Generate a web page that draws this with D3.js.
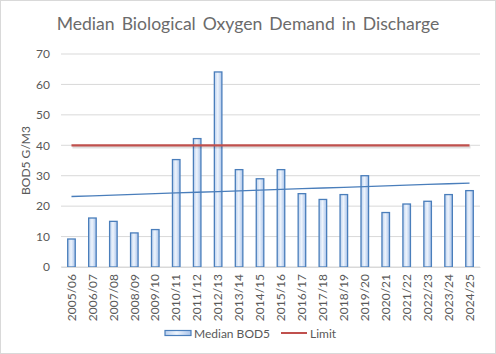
<!DOCTYPE html>
<html><head><meta charset="utf-8">
<script src="https://cdn.jsdelivr.net/npm/d3@7"></script>
<style>body{margin:0;background:#fff}svg{display:block}text{font-family:Lato,"Open Sans",sans-serif}</style>
</head><body><svg id="c" width="496" height="354"></svg>
<script>
const categories = ["2005/06","2006/07","2007/08","2008/09","2009/10","2010/11","2011/12","2012/13","2013/14","2014/15","2015/16","2016/17","2017/18","2018/19","2019/20","2020/21","2021/22","2022/23","2023/24","2024/25"];
const medianBOD5 = [9.2,16.1,15,11.2,12.3,35.3,42.2,64.1,32,29,32,24.1,22.2,23.8,30,17.9,20.7,21.6,23.8,25.1];
const limitValues = categories.map(() => 40);
const yTicks = [0,10,20,30,40,50,60,70];
const title = "Median Biological Oxygen Demand in Discharge";
const yLabel = "BOD5 G/M3";
const legendLabels = ["Median BOD5","Limit"];

const svg = d3.select("#c");
const W = 496, H = 354;
const m = {l:61, r:16, t:54, b:87};
const x = d3.scaleBand().domain(categories).range([m.l, W - m.r]).paddingInner(0.64).paddingOuter(0.32);
const xc = d3.scalePoint().domain(categories).range([m.l, W - m.r]).padding(0.5);
const y = d3.scaleLinear().domain([0,70]).range([H - m.b, m.t]);

svg.append("rect").attr("x",0.5).attr("y",0.5).attr("width",W-1).attr("height",H-1).attr("fill","#fff").attr("stroke","#d9d9d9");

const defs = svg.append("defs");
const g = defs.append("linearGradient").attr("id","bg").attr("x1","0").attr("x2","1").attr("y1","0").attr("y2","0");
g.append("stop").attr("offset","0").attr("stop-color","#bcd1ee");
g.append("stop").attr("offset","0.45").attr("stop-color","#eef4fc");
g.append("stop").attr("offset","1").attr("stop-color","#a9c3ea");

// gridlines
svg.append("g").selectAll("line").data(yTicks).join("line")
  .attr("x1", m.l).attr("x2", W - m.r)
  .attr("y1", d => y(d)).attr("y2", d => y(d))
  .attr("stroke","#d9d9d9").attr("stroke-width",1);

// y axis labels
const yAxis = d3.axisLeft(y).tickValues(yTicks).tickSize(0).tickPadding(11);
const ya = svg.append("g").attr("transform",`translate(${m.l},0)`).call(yAxis);
ya.select(".domain").remove();
ya.selectAll("text").attr("fill","#595959").style("font-size","12px").style("font-family","Lato,'Open Sans',sans-serif");

// bars
svg.append("g").selectAll("rect").data(categories).join("rect")
  .attr("x", d => x(d)).attr("width", x.bandwidth())
  .attr("y", (d,i) => y(medianBOD5[i])).attr("height", (d,i) => y(0) - y(medianBOD5[i]))
  .attr("fill","url(#bg)").attr("stroke","#4a7ebb").attr("stroke-width",1.3);

// limit line
const line = d3.line().x((d,i) => xc(categories[i])).y(d => y(d));
svg.append("path").datum(limitValues).attr("d", line).attr("fill","none")
  .attr("stroke","#000").attr("stroke-opacity",0.12).attr("stroke-width",2.5).attr("transform","translate(1,2)");
svg.append("path").datum(limitValues).attr("d", line).attr("fill","none").attr("stroke","#c0504d").attr("stroke-width",2.2);

// trendline (linear regression of the data)
const xs = medianBOD5.map((d,i) => i+1);
const mx = d3.mean(xs), my = d3.mean(medianBOD5);
const slope = d3.sum(xs.map((xi,i) => (xi-mx)*(medianBOD5[i]-my))) / d3.sum(xs.map(xi => (xi-mx)**2));
const icpt = my - slope*mx;
const trend = xs.map(xi => icpt + slope*xi);
svg.append("path").datum(trend).attr("d", line).attr("fill","none").attr("stroke","#4a7ebb").attr("stroke-width",1.3);

// x axis
const xAxis = d3.axisBottom(x).tickSize(0).tickPadding(0);
const xa = svg.append("g").attr("transform",`translate(0,${y(0)})`).call(xAxis);
xa.select(".domain").attr("stroke","#d9d9d9");
xa.selectAll("text").attr("fill","#595959").style("font-size","12px")
  .attr("text-anchor","end").attr("dy","0.35em")
  .attr("transform","translate(0,7) rotate(-90)").attr("x",0).attr("y",0);

// title
svg.append("text").attr("x", 248).attr("y", 30).attr("text-anchor","middle")
  .attr("fill","#6b6b6b").style("font-size","17.6px").style("word-spacing","2.5px").text(title);

// y label
svg.append("text").attr("transform",`translate(30,${(y(0)+y(70))/2}) rotate(-90)`).attr("text-anchor","middle")
  .attr("fill","#595959").style("font-size","12px").text(yLabel);

// legend
const lg = svg.append("g");
lg.append("rect").attr("x",165).attr("y",330.5).attr("width",26).attr("height",5).attr("fill","url(#bg)").attr("stroke","#4a7ebb").attr("stroke-width",1.2);
lg.append("text").attr("x",194).attr("y",337.5).attr("fill","#595959").style("font-size","12px").text(legendLabels[0]);
lg.append("line").attr("x1",281).attr("x2",307).attr("y1",333).attr("y2",333).attr("stroke","#c0504d").attr("stroke-width",2);
lg.append("text").attr("x",310).attr("y",337.5).attr("fill","#595959").style("font-size","12px").text(legendLabels[1]);
</script></body></html>
